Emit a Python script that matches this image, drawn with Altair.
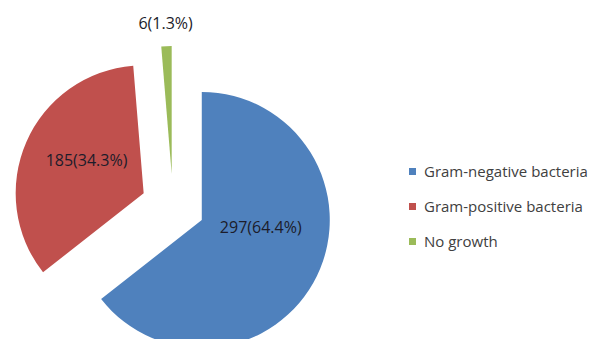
import altair as alt
import pandas as pd

categories = ["Gram-negative bacteria", "Gram-positive bacteria", "No growth"]
counts = [297, 185, 6]
percents = [64.4, 34.3, 1.3]
colors = ["#4F81BD", "#C0504D", "#9BBB59"]

labels = [f"{c}({p}%)" for c, p in zip(counts, percents)]
df = pd.DataFrame({"category": categories, "count": counts, "pct": percents, "label": labels})

CX, CY = 165, 198   # pie centre in view pixels
R = 128             # pie radius
D = 32              # explosion distance
FONT = "Open Sans"

base = (
    alt.Chart(df)
    .transform_window(cum="sum(pct)", frame=[None, 0])
    .transform_calculate(
        start="datum.cum - datum.pct",
        end="datum.cum",
        mid="(datum.cum - datum.pct / 2) / 100 * 2 * PI",
    )
    .transform_calculate(
        cx=f"{CX} + {D} * sin(datum.mid)",
        cy=f"{CY} - {D} * cos(datum.mid)",
    )
)

arcs = base.mark_arc(radius=R).encode(
    theta=alt.Theta("start:Q", scale=alt.Scale(domain=[0, 100])),
    theta2="end:Q",
    x=alt.X("cx:Q", scale=None, axis=None),
    y=alt.Y("cy:Q", scale=None, axis=None),
    color=alt.Color(
        "category:N",
        scale=alt.Scale(domain=categories, range=colors),
        legend=alt.Legend(
            title=None,
            orient="none",
            legendX=397,
            legendY=156,
            symbolType="square",
            symbolSize=49,
            symbolStrokeWidth=0,
            labelFont=FONT,
            labelFontSize=15,
            labelColor="#404040",
            labelLimit=300,
            rowPadding=19,
            labelOffset=4,
            padding=0,
        ),
    ),
)


def label_layer(cat, rl, dx, dy):
    return (
        base.transform_filter(alt.datum.category == cat)
        .transform_calculate(
            lx=f"datum.cx + {rl} * sin(datum.mid)",
            ly=f"datum.cy - {rl} * cos(datum.mid)",
        )
        .mark_text(font=FONT, fontSize=16, color="#1c1c2a", dx=dx, dy=dy)
        .encode(
            x=alt.X("lx:Q", scale=None, axis=None),
            y=alt.Y("ly:Q", scale=None, axis=None),
            text="label:N",
        )
    )


texts = [
    label_layer(categories[0], 70, -4, -23),
    label_layer(categories[1], 70, 7, -4),
    label_layer(categories[2], 150, 0, 0),
]

chart = (
    alt.layer(arcs, *texts)
    .properties(width=585, height=331, autosize=alt.AutoSizeParams(type="none"), padding=0)
    .configure_view(stroke="transparent", strokeWidth=0)
)

chart.save("out.html", embed_options={"renderer": "svg", "actions": False})
